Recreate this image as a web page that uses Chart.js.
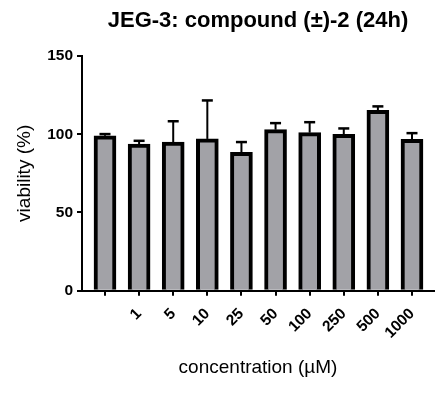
<!DOCTYPE html>
<html>
<head>
<meta charset="utf-8">
<title>JEG-3 viability</title>
<script src="https://cdn.jsdelivr.net/npm/chart.js@4.4.1/dist/chart.umd.min.js"></script>
<style>
  html, body { margin: 0; padding: 0; background: #fff; }
  #chart { display: block; }
</style>
</head>
<body>
<canvas id="chart" width="438" height="394"></canvas>
<script>
// concentrations (µM); the first group is the untreated control
const concentrations = ['', '1', '5', '10', '25', '50', '100', '250', '500', '1000'];
const viability = [99.0, 93.7, 95.0, 97.0, 88.4, 102.9, 101.0, 99.9, 115.3, 96.7];
const sd = [1.1, 2.1, 13.3, 24.6, 6.6, 4.2, 6.7, 3.8, 2.5, 4.0];
const yTicks = [0, 50, 100, 150];

const FONT = "'Liberation Sans', Arial, Helvetica, sans-serif";
Chart.defaults.font.family = FONT;
Chart.defaults.color = '#000';

// upper error bars (mean + SD) drawn on top of the bars
const errorBars = {
  id: 'errorBars',
  afterDatasetsDraw(chart) {
    const { ctx, scales: { x, y } } = chart;
    ctx.save();
    ctx.strokeStyle = '#000';
    viability.forEach((v, i) => {
      const px = x.getPixelForValue(i);
      const top = y.getPixelForValue(v + sd[i]);
      const base = y.getPixelForValue(v);
      ctx.lineWidth = 2;
      ctx.beginPath();
      ctx.moveTo(px, base);
      ctx.lineTo(px, top);
      ctx.stroke();
      ctx.lineWidth = 2.5;
      ctx.beginPath();
      ctx.moveTo(px - 5.5, top);
      ctx.lineTo(px + 5.5, top);
      ctx.stroke();
    });
    ctx.restore();
  }
};

new Chart(document.getElementById('chart'), {
  type: 'bar',
  data: {
    datasets: [{
      data: viability.map((v, i) => ({ x: i, y: v })),
      backgroundColor: '#a2a2a7',
      borderColor: '#000',
      borderWidth: 4,
      barThickness: 22
    }]
  },
  options: {
    responsive: false,
    animation: false,
    layout: { padding: { left: 0, right: 4, top: 0, bottom: 0 } },
    plugins: {
      legend: { display: false },
      tooltip: { enabled: false },
      title: {
        display: true,
        text: 'JEG-3: compound (±)-2 (24h)',
        fullSize: false,
        font: { size: 22, weight: 'bold' },
        padding: { top: 7.8, bottom: 21.8 }
      }
    },
    scales: {
      x: {
        type: 'linear',
        offset: false,
        min: -0.674,
        max: 9.645,
        afterBuildTicks: (scale) => {
          scale.ticks = concentrations.map((c, i) => ({ value: i }));
        },
        afterFit: (scale) => {
          scale.height = 103.3;
          scale.paddingLeft = 0;
          scale.paddingRight = 0;
        },
        border: { display: true, color: '#000', width: 2 },
        grid: { offset: false, drawOnChartArea: false, color: '#000', lineWidth: 2, tickLength: 5 },
        ticks: {
          autoSkip: false,
          minRotation: 45,
          maxRotation: 45,
          padding: 9,
          font: { size: 15.5, weight: 'bold' },
          callback: (value) => concentrations[value]
        },
        title: {
          display: true,
          text: 'concentration (µM)',
          font: { size: 19 },
          padding: { bottom: 15 }
        }
      },
      y: {
        min: 0,
        max: 150,
        afterBuildTicks: (scale) => {
          scale.ticks = yTicks.map(v => ({ value: v }));
        },
        afterFit: (scale) => { scale.width = 82; },
        border: { display: true, color: '#000', width: 2 },
        grid: { drawOnChartArea: false, color: '#000', lineWidth: 2, tickLength: 5 },
        ticks: {
          padding: 4,
          font: { size: 15.5, weight: 'bold' }
        },
        title: {
          display: true,
          text: 'viability (%)',
          font: { size: 19 },
          padding: { top: 13.6 }
        }
      }
    }
  },
  plugins: [errorBars]
});
</script>
</body>
</html>
